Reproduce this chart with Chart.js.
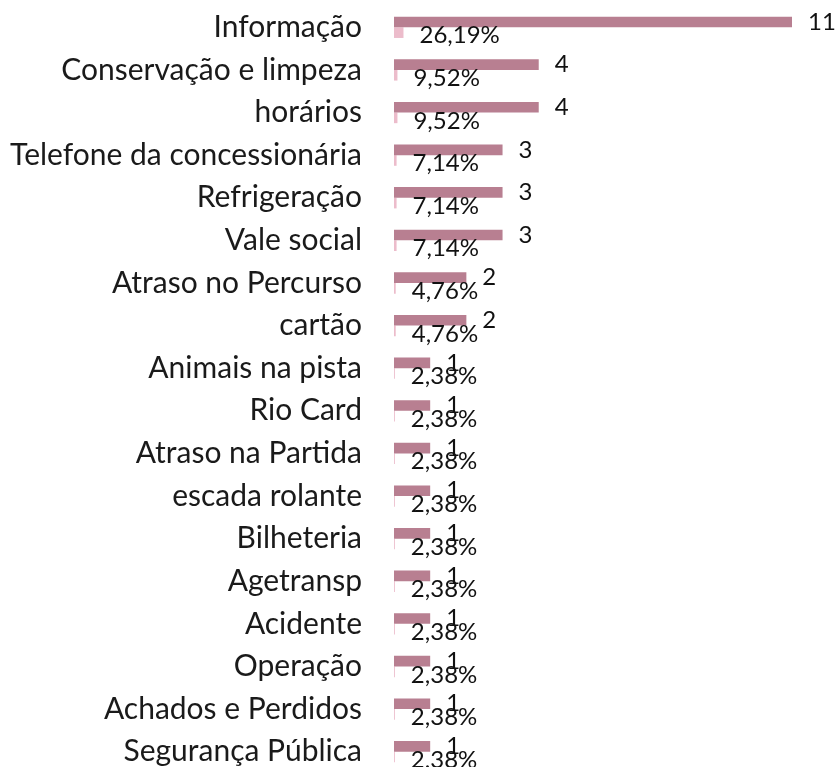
<!DOCTYPE html>
<html>
<head>
<meta charset="utf-8">
<script src="https://cdn.jsdelivr.net/npm/chart.js@4/dist/chart.umd.min.js"></script>
<style>
  html, body { margin: 0; padding: 0; background: #fff; overflow: hidden; }
  #box { position: relative; width: 839px; height: 773px; }
</style>
</head>
<body>
<div id="box"><canvas id="reclamacoes"></canvas></div>
<script>
// Categorias (de cima para baixo)
const categorias = [
  "Informação", "Conservação e limpeza", "horários", "Telefone da concessionária",
  "Refrigeração", "Vale social", "Atraso no Percurso", "cartão", "Animais na pista",
  "Rio Card", "Atraso na Partida", "escada rolante", "Bilheteria", "Agetransp",
  "Acidente", "Operação", "Achados e Perdidos", "Segurança Pública"
];

// Quantidade de reclamações
const quantidades = [11, 4, 4, 3, 3, 3, 2, 2, 1, 1, 1, 1, 1, 1, 1, 1, 1, 1];

// Percentual (fração do total)
const percentuais = [0.2619, 0.0952, 0.0952, 0.0714, 0.0714, 0.0714, 0.0476, 0.0476,
  0.0238, 0.0238, 0.0238, 0.0238, 0.0238, 0.0238, 0.0238, 0.0238, 0.0238, 0.0238];

const fonte = "Lato, 'Open Sans', sans-serif";

// Plugin simples para escrever os valores ao lado das barras
const rotulos = {
  id: "rotulos",
  afterDatasetsDraw(chart) {
    const ctx = chart.ctx;
    ctx.save();
    ctx.fillStyle = "#111";
    ctx.font = "24px " + fonte;
    ctx.textAlign = "left";
    ctx.textBaseline = "middle";
    chart.getDatasetMeta(0).data.forEach((bar, i) => {
      ctx.fillText(String(quantidades[i]), bar.x + 16, bar.y);
    });
    chart.getDatasetMeta(1).data.forEach((bar, i) => {
      const txt = (percentuais[i] * 100).toFixed(2).replace(".", ",") + "%";
      ctx.fillText(txt, bar.x + 16, bar.y + 3);
    });
    ctx.restore();
  }
};

const ctx = document.getElementById("reclamacoes").getContext("2d");
new Chart(ctx, {
  type: "bar",
  data: {
    labels: categorias,
    datasets: [
      {
        label: "Quantidade",
        data: quantidades,
        backgroundColor: "#b87f91",
        categoryPercentage: 0.5,
        barPercentage: 1.0
      },
      {
        label: "Percentual",
        data: percentuais,
        backgroundColor: "#ecbccb",
        categoryPercentage: 0.5,
        barPercentage: 1.0
      }
    ]
  },
  options: {
    indexAxis: "y",
    responsive: true,
    maintainAspectRatio: false,
    animation: false,
    layout: { padding: { top: 6, right: 47, bottom: 0, left: 0 } },
    plugins: {
      legend: { display: false },
      tooltip: { enabled: false }
    },
    scales: {
      x: {
        display: false,
        min: 0,
        max: 11
      },
      y: {
        grid: { display: false },
        border: { display: false },
        ticks: {
          color: "#1a1a1a",
          padding: 24,
          font: { family: fonte, size: 30 }
        },
        afterFit(scale) {
          scale.width = 394;
          scale.paddingTop = 0;
          scale.paddingBottom = 0;
        }
      }
    }
  },
  plugins: [rotulos]
});
</script>
</body>
</html>
